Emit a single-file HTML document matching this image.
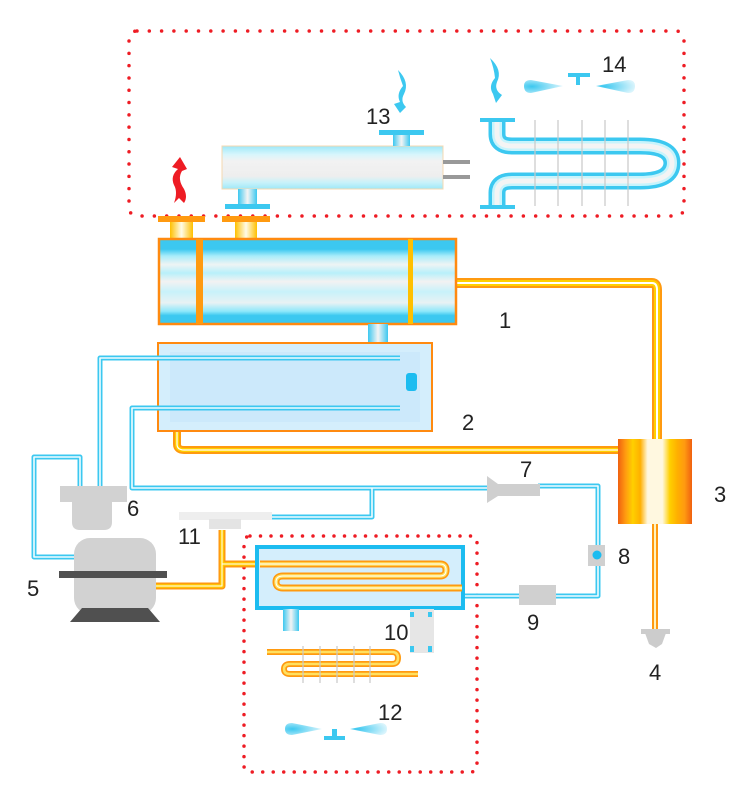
<!DOCTYPE html>
<html><head><meta charset="utf-8"><style>
html,body{margin:0;padding:0;background:#fff;}
svg{display:block;}
text{font-family:"Liberation Sans",sans-serif;font-size:22px;fill:#222;}
</style></head><body>
<svg width="750" height="802" viewBox="0 0 750 802" xmlns="http://www.w3.org/2000/svg">
<defs>
<linearGradient id="cyl" x1="0" y1="0" x2="0" y2="1">
<stop offset="0" stop-color="#3cc8f0"/><stop offset="0.12" stop-color="#3cc8f0"/>
<stop offset="0.2" stop-color="#a8ecfa"/><stop offset="0.3" stop-color="#eef4f4"/>
<stop offset="0.4" stop-color="#b8f0fa"/><stop offset="0.5" stop-color="#f2f2f2"/>
<stop offset="0.62" stop-color="#c8f2fa"/><stop offset="0.75" stop-color="#e8f2f4"/>
<stop offset="0.85" stop-color="#8ee8fa"/><stop offset="0.9" stop-color="#3cc8f0"/><stop offset="1" stop-color="#3cc8f0"/>
</linearGradient>
<linearGradient id="cyl2" x1="0" y1="0" x2="0" y2="1">
<stop offset="0" stop-color="#9ee8f8"/><stop offset="0.2" stop-color="#d8f6fc"/>
<stop offset="0.35" stop-color="#f2f2f2"/><stop offset="0.7" stop-color="#eeeeee"/>
<stop offset="0.85" stop-color="#c8f2fa"/><stop offset="1" stop-color="#9ee8f8"/>
</linearGradient>
<linearGradient id="sep" x1="0" y1="0" x2="1" y2="0">
<stop offset="0" stop-color="#f06010"/><stop offset="0.1" stop-color="#ff9a10"/>
<stop offset="0.2" stop-color="#ffd000"/><stop offset="0.3" stop-color="#ffb000"/>
<stop offset="0.4" stop-color="#fff8e0"/><stop offset="0.6" stop-color="#fff8e0"/>
<stop offset="0.7" stop-color="#ffd000"/><stop offset="0.8" stop-color="#ffb000"/>
<stop offset="0.9" stop-color="#ff9a10"/><stop offset="1" stop-color="#f06010"/>
</linearGradient>
<linearGradient id="vpipe" x1="0" y1="0" x2="1" y2="0">
<stop offset="0" stop-color="#3cc8f0"/><stop offset="0.5" stop-color="#f4f4f4"/><stop offset="1" stop-color="#3cc8f0"/>
</linearGradient>
<linearGradient id="ypipe" x1="0" y1="0" x2="1" y2="0">
<stop offset="0" stop-color="#ffc000"/><stop offset="0.5" stop-color="#fffbe8"/><stop offset="1" stop-color="#ffc000"/>
</linearGradient>
<radialGradient id="blade" cx="0.2" cy="0.5" r="0.8">
<stop offset="0" stop-color="#3cc8f0"/><stop offset="1" stop-color="#d8f4fc"/>
</radialGradient>
</defs>

<rect x="129" y="31" width="555" height="185" rx="8" fill="none" stroke="#ee1c24" stroke-width="3.5" stroke-dasharray="0 12.3" stroke-linecap="round"/>
<rect x="244" y="536" width="233" height="236" rx="6" fill="none" stroke="#ee1c24" stroke-width="3.5" stroke-dasharray="0 10.5" stroke-linecap="round"/>

<!-- 13 -->
<rect x="222" y="146" width="221" height="43" fill="url(#cyl2)" stroke="#f4d8b0" stroke-width="1"/>
<rect x="393" y="134" width="17" height="12" fill="url(#vpipe)"/>
<rect x="379" y="130" width="45" height="5" fill="#3cc8f0"/>
<rect x="238" y="189" width="19" height="16" fill="url(#vpipe)"/>
<rect x="225" y="204" width="45" height="5" fill="#3cc8f0"/>
<rect x="443" y="160" width="27" height="4" fill="#999"/>
<rect x="443" y="175" width="27" height="4" fill="#999"/>
<path d="M398 70 Q410 82 404 94 Q400 101 406 107 L400 113 L394 104 L400 102 Q396 94 403 86 Q400 78 398 70Z" fill="#3cc8f0"/>
<text x="366" y="124">13</text>

<!-- 14 coil -->
<g fill="none">
<path d="M497 120 L497 134 Q497 146 512 146 L640 146 Q672 146 672 163 Q672 181 640 181 L512 181 Q497 181 497 193 L497 206" stroke="#3cc8f0" stroke-width="17"/>
<path d="M497 120 L497 134 Q497 146 512 146 L640 146 Q672 146 672 163 Q672 181 640 181 L512 181 Q497 181 497 193 L497 206" stroke="#c8f4fc" stroke-width="10"/>
<path d="M497 120 L497 134 Q497 146 512 146 L640 146 Q672 146 672 163 Q672 181 640 181 L512 181 Q497 181 497 193 L497 206" stroke="#f4f4f4" stroke-width="5"/>
</g>
<rect x="480" y="118" width="35" height="4" fill="#3cc8f0"/>
<rect x="480" y="205" width="35" height="4" fill="#3cc8f0"/>
<g stroke="#c8c8c8" stroke-width="1.2">
<line x1="535" y1="120" x2="535" y2="206"/><line x1="558" y1="120" x2="558" y2="206"/>
<line x1="582" y1="120" x2="582" y2="206"/><line x1="605" y1="120" x2="605" y2="206"/>
<line x1="628" y1="120" x2="628" y2="206"/>
</g>
<path d="M490 58 Q503 70 497 82 Q494 90 502 95 L496 103 L493 94 Q488 86 495 78 Q494 68 490 58Z" fill="#3cc8f0"/>
<path d="M524 86 Q524 80 531 80 L563 86 L531 93 Q524 93 524 86Z" fill="url(#blade)"/>
<path d="M635 86 Q635 80 628 80 L596 86 L628 93 Q635 93 635 86Z" fill="url(#blade)"/>
<rect x="568" y="73" width="22" height="4" fill="#3cc8f0"/><rect x="576" y="76" width="4" height="9" fill="#3cc8f0"/>
<text x="602" y="72">14</text>

<path d="M180 157 L187 169 L182 171 Q177 179 184 189 Q188 197 184 203 L179 198 L174 203 Q178 192 174 185 Q170 176 178 169 L172 167Z" fill="#ee1c24"/>

<rect x="170" y="220" width="23" height="20" fill="url(#ypipe)"/>
<rect x="158" y="216" width="47" height="6" fill="#ff9a10"/>
<rect x="235" y="220" width="22" height="20" fill="url(#ypipe)"/>
<rect x="222" y="216" width="48" height="6" fill="#ff9a10"/>

<g fill="none" stroke-linejoin="round">
<path d="M455 283 L652 283 Q657 283 657 290 L657 440" stroke="#ff9a10" stroke-width="10"/>
<path d="M455 283 L652 283 Q657 283 657 290 L657 440" stroke="#ffd000" stroke-width="6"/>
<path d="M455 283 L652 283 Q657 283 657 290 L657 440" stroke="#fff" stroke-width="2"/>
<path d="M177 428 L177 444 Q177 450 184 450 L620 450" stroke="#ff9a10" stroke-width="8"/>
<path d="M177 428 L177 444 Q177 450 184 450 L620 450" stroke="#ffd000" stroke-width="4"/>
<path d="M177 428 L177 444 Q177 450 184 450 L620 450" stroke="#fff" stroke-width="1.2"/>
<path d="M655 524 L655 630" stroke="#ff9a10" stroke-width="6"/>
<path d="M655 524 L655 630" stroke="#fff3c0" stroke-width="2"/>
</g>

<rect x="159" y="239" width="297" height="85" fill="url(#cyl)" stroke="#ff8a10" stroke-width="2.5"/>
<rect x="196" y="239" width="7" height="85" fill="#ff9a10"/>
<rect x="408" y="239" width="5" height="85" fill="#ffc000"/>
<rect x="368" y="324" width="20" height="19" fill="url(#vpipe)"/>
<text x="499" y="328">1</text>

<rect x="158" y="343" width="274" height="88" fill="#d4eefc" stroke="#ff8a10" stroke-width="2"/>
<rect x="170" y="352" width="250" height="70" fill="#cce9fb"/>
<rect x="406" y="373" width="11" height="18" rx="3" fill="#1cbcf0"/>
<text x="462" y="430">2</text>

<rect x="618" y="439" width="74" height="85" fill="url(#sep)"/>
<text x="714" y="502">3</text>
<rect x="641" y="629" width="29" height="5" fill="#ccc"/>
<path d="M645 633 L666 633 L662 644 L656 648 L649 644Z" fill="#ccc"/>
<text x="649" y="680">4</text>

<g fill="none" stroke-linejoin="round">
<g stroke="#3cc8f0" stroke-width="5">
<path d="M400 358 L100 358 L100 488"/>
<path d="M400 408 L132 408 L132 488 L488 488"/>
<path d="M538 486 L598 486 L598 596 L462 596"/>
<path d="M372 488 L372 517 L270 517"/>
<path d="M80 488 L80 457 L34 457 L34 557 L76 557"/>
</g>
<g stroke="#f0fcff" stroke-width="1.6">
<path d="M400 358 L100 358 L100 488"/>
<path d="M400 408 L132 408 L132 488 L488 488"/>
<path d="M538 486 L598 486 L598 596 L462 596"/>
<path d="M372 488 L372 517 L270 517"/>
<path d="M80 488 L80 457 L34 457 L34 557 L76 557"/>
</g>
</g>

<rect x="60" y="486" width="67" height="16" fill="#d2d2d2"/>
<path d="M72 502 L112 502 L112 522 Q112 530 104 530 L80 530 Q72 530 72 522Z" fill="#d2d2d2"/>
<text x="127" y="516">6</text>
<path d="M487 476 L498 484 L540 484 L540 496 L498 496 L487 503Z" fill="#cfcfcf"/>
<text x="520" y="477">7</text>
<rect x="588" y="545" width="17" height="21" fill="#d0d0d0"/>
<circle cx="597" cy="555" r="4.5" fill="#1cbcf0"/>
<text x="618" y="564">8</text>
<rect x="519" y="585" width="37" height="20" fill="#d0d0d0"/>
<text x="527" y="630">9</text>
<rect x="179" y="512" width="93" height="8" fill="#eeeeee"/>
<rect x="209" y="519" width="32" height="10" fill="#e4e4e4"/>
<text x="178" y="544">11</text>

<g fill="none" stroke-linejoin="round">
<path d="M155 586 L222 586 L222 530 M222 564 L260 564" stroke="#ff9a10" stroke-width="7"/>
<path d="M155 586 L222 586 L222 530 M222 564 L260 564" stroke="#ffd000" stroke-width="3.5"/>
<path d="M155 586 L222 586 L222 530 M222 564 L260 564" stroke="#fff" stroke-width="1"/>
</g>

<rect x="74" y="538" width="82" height="76" rx="16" fill="#d2d2d2"/>
<rect x="59" y="571" width="108" height="7" fill="#505050"/>
<path d="M82 608 L148 608 L160 622 L70 622Z" fill="#505050"/>
<text x="27" y="596">5</text>

<rect x="257" y="547" width="206" height="61" fill="#d4eefc" stroke="#1cbcf0" stroke-width="4"/>
<g fill="none">
<path d="M260 564 L440 564 Q446 564 446 570 Q446 576 440 576 L283 576 Q276 576 276 582 Q276 588 283 588 L462 588" stroke="#ff9a10" stroke-width="7"/>
<path d="M260 564 L440 564 Q446 564 446 570 Q446 576 440 576 L283 576 Q276 576 276 582 Q276 588 283 588 L462 588" stroke="#ffe060" stroke-width="3.5"/>
<path d="M260 564 L440 564 Q446 564 446 570 Q446 576 440 576 L283 576 Q276 576 276 582 Q276 588 283 588 L462 588" stroke="#fff" stroke-width="1"/>
</g>
<rect x="283" y="609" width="16" height="22" fill="url(#vpipe)"/>
<rect x="410" y="609" width="24" height="44" fill="#e6e6e6"/>
<rect x="410" y="612" width="4" height="5" fill="#3cc8f0"/><rect x="428" y="612" width="4" height="5" fill="#3cc8f0"/>
<rect x="410" y="646" width="4" height="6" fill="#3cc8f0"/><rect x="428" y="646" width="4" height="6" fill="#3cc8f0"/>
<text x="384" y="640">10</text>

<g fill="none">
<path d="M267 652 L392 652 Q398 652 398 658 Q398 664 392 664 L290 664 Q284 664 284 669 Q284 674 290 674 L418 674" stroke="#ff9a10" stroke-width="6"/>
<path d="M267 652 L392 652 Q398 652 398 658 Q398 664 392 664 L290 664 Q284 664 284 669 Q284 674 290 674 L418 674" stroke="#ffe060" stroke-width="2.5"/>
</g>
<g stroke="#c8c8c8" stroke-width="1.2">
<line x1="303" y1="646" x2="303" y2="683"/><line x1="320" y1="646" x2="320" y2="683"/>
<line x1="337" y1="646" x2="337" y2="683"/><line x1="354" y1="646" x2="354" y2="683"/>
<line x1="370" y1="646" x2="370" y2="683"/>
</g>
<path d="M285 729 Q285 723 292 723 L322 729 L292 735 Q285 735 285 729Z" fill="url(#blade)"/>
<path d="M387 729 Q387 723 380 723 L350 729 L380 735 Q387 735 387 729Z" fill="url(#blade)"/>
<rect x="324" y="736" width="21" height="4" fill="#3cc8f0"/><rect x="332" y="729" width="5" height="8" fill="#3cc8f0"/>
<text x="378" y="720">12</text>
</svg>
</body></html>
